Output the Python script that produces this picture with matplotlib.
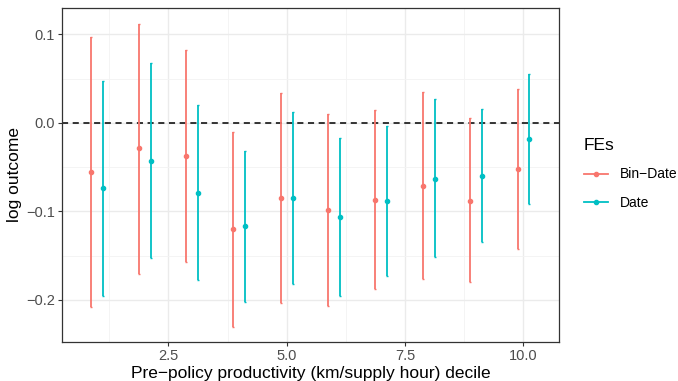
import matplotlib
matplotlib.use("Agg")
import matplotlib.pyplot as plt
from matplotlib.lines import Line2D
import numpy as np

plt.rcParams['font.family'] = ['Liberation Sans', 'DejaVu Sans']

# deciles and estimates
deciles = np.arange(1, 11)

bin_est = [-0.056, -0.029, -0.038, -0.120, -0.085, -0.099, -0.087, -0.071, -0.088, -0.052]
bin_lo = [-0.208, -0.171, -0.157, -0.231, -0.204, -0.207, -0.188, -0.176, -0.180, -0.142]
bin_hi = [0.097, 0.112, 0.082, -0.010, 0.034, 0.010, 0.014, 0.035, 0.005, 0.038]

date_est = [-0.074, -0.043, -0.079, -0.117, -0.085, -0.106, -0.088, -0.063, -0.060, -0.018]
date_lo = [-0.195, -0.153, -0.178, -0.202, -0.182, -0.195, -0.173, -0.152, -0.135, -0.092]
date_hi = [0.047, 0.068, 0.020, -0.032, 0.012, -0.017, -0.004, 0.027, 0.016, 0.055]

series = [
    ("Bin\u2212Date", bin_est, bin_lo, bin_hi, "#F8766D", -0.125),
    ("Date", date_est, date_lo, date_hi, "#00BFC4", 0.125),
]

fig = plt.figure(figsize=(6.78, 3.81), dpi=100)
ax = fig.add_axes([62 / 678, 39 / 381, 497 / 678, 334 / 381])

ax.axhline(0, color="black", linestyle=(0, (4, 3)), linewidth=1.1, zorder=2)

for name, est, lo, hi, col, off in series:
    est = np.array(est)
    x = deciles + off
    yerr = [est - np.array(lo), np.array(hi) - est]
    ax.errorbar(x, est, yerr=yerr, fmt="o", color=col, markersize=3,
                elinewidth=1.3, capsize=0.7, capthick=1.0, zorder=3)

ax.set_xlim(0.255, 10.75)
ax.set_ylim(-0.2475, 0.1296)
ax.set_xticks([2.5, 5.0, 7.5, 10.0])
ax.set_xticklabels(["2.5", "5.0", "7.5", "10.0"])
ax.set_yticks([-0.2, -0.1, 0.0, 0.1])
ax.set_yticklabels(["\u22120.2", "\u22120.1", "0.0", "0.1"])
ax.set_xticks([1.25, 3.75, 6.25, 8.75], minor=True)
ax.set_yticks([-0.15, -0.05, 0.05], minor=True)
ax.grid(which="major", color="#EBEBEB", linewidth=1.0, zorder=0)
ax.grid(which="minor", color="#F3F3F3", linewidth=0.6, zorder=0)
ax.set_axisbelow(True)
ax.tick_params(which="major", length=3, color="#333333", labelsize=10.5,
               labelcolor="#4D4D4D", pad=2)
ax.tick_params(which="minor", length=0)
for s in ax.spines.values():
    s.set_color("#333333")
    s.set_linewidth(0.9)

ax.set_xlabel("Pre\u2212policy productivity (km/supply hour) decile", fontsize=12.5, labelpad=2)
ax.set_ylabel("log outcome", fontsize=12.5, labelpad=3)

handles = [Line2D([0], [0], color=col, marker="o", markersize=3, linewidth=1.3)
           for _, _, _, _, col, _ in series]
leg = fig.legend(handles, [s[0] for s in series], title="FEs",
                 loc="center left", bbox_to_anchor=(577 / 678, 207 / 381),
                 frameon=False, fontsize=10, title_fontsize=12.5,
                 handlelength=1.7, handletextpad=0.9, labelspacing=1.05, borderpad=0)
leg._legend_box.align = "left"

fig.savefig("out.png", dpi=100)
